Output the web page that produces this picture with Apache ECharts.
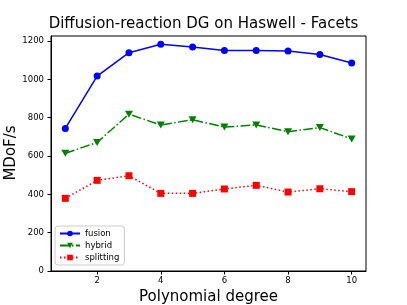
<!DOCTYPE html>
<html><head><meta charset="utf-8">
<script src="https://cdn.jsdelivr.net/npm/echarts@6/dist/echarts.min.js"></script>
<style>html,body{margin:0;padding:0;background:#fff}#c{width:407px;height:305px}</style>
</head><body><div id="c"></div>
<script>
var degrees = [1,2,3,4,5,6,7,8,9,10];
var fusion = [744,1017,1139,1183,1169,1150,1151,1148,1129,1085];
var hybrid = [614,671,818,762,789,751,762,727,748,689];
var splitting = [379,473,497,405,405,428,447,412,429,414];
var xTicks = [2,4,6,8,10];
var yTicks = [0,200,400,600,800,1000,1200];

function pairs(v){return degrees.map(function(d,i){return [d,v[i]];});}
var font = 'DejaVu Sans';
var chart = echarts.init(document.getElementById('c'), null, {renderer:'canvas'});
chart.setOption({
  animation:false,
  backgroundColor:'#fff',
  title:{text:'Diffusion-reaction DG on Haswell - Facets',left:'center',top:12,
    textStyle:{fontFamily:font,fontSize:15,fontWeight:'normal',color:'#000'}},
  graphic:[{type:'text',x:11,y:153,rotation:Math.PI/2,
    style:{text:'MDoF/s',fontFamily:font,fontSize:15,fill:'#000',align:'center',verticalAlign:'middle'}}],
  grid:{left:51,right:41,top:36,bottom:34,containLabel:false,outerBoundsMode:'none',
    show:true,borderColor:'#000',borderWidth:1,backgroundColor:'transparent'},
  legend:{orient:'vertical',left:55,top:226,padding:[3,5,3,4],itemGap:3,itemWidth:20,itemHeight:7,
    backgroundColor:'#fff',borderColor:'#ccc',borderWidth:1,borderRadius:3,
    textStyle:{fontFamily:font,fontSize:8.5,color:'#000'},
    data:['fusion','hybrid','splitting']},
  xAxis:{type:'value',min:0.55,max:10.45,name:'Polynomial degree',nameLocation:'middle',nameGap:18,
    nameTextStyle:{fontFamily:font,fontSize:15,color:'#000'},
    axisLine:{show:true,lineStyle:{color:'#000',width:1}},
    axisTick:{show:true,length:3.5,lineStyle:{color:'#000'},customValues:xTicks},
    axisLabel:{fontFamily:font,fontSize:8.5,color:'#000',margin:5,customValues:xTicks,formatter:function(v){return String(v);}},
    splitLine:{show:false}},
  yAxis:{type:'value',min:0,max:1226,
    axisLine:{show:true,lineStyle:{color:'#000',width:1}},
    axisTick:{show:true,length:3.5,lineStyle:{color:'#000'},customValues:yTicks},
    axisLabel:{fontFamily:font,fontSize:8.5,color:'#000',margin:7,customValues:yTicks,formatter:function(v){return String(v);}},
    splitLine:{show:false}},
  series:[
    {name:'fusion',type:'line',data:pairs(fusion),symbol:'circle',symbolSize:7,
      itemStyle:{color:'#0000ff'},lineStyle:{color:'#0000ff',width:1.5,type:'solid'}},
    {name:'hybrid',type:'line',data:pairs(hybrid),symbol:'path://M0,0 L10,0 L5,9 Z',symbolSize:[8,7],
      itemStyle:{color:'#008000'},lineStyle:{color:'#008000',width:1.5,type:[9.6,2.4,1.5,2.4]}},
    {name:'splitting',type:'line',data:pairs(splitting),symbol:'rect',symbolSize:7,
      itemStyle:{color:'#ff0000'},lineStyle:{color:'#ff0000',width:1.5,type:[1.5,2.5]}}
  ]
});
</script></body></html>
